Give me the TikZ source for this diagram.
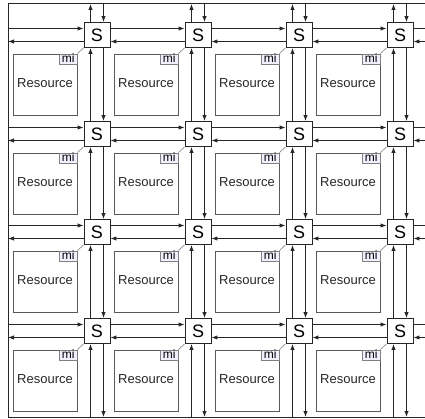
\documentclass[tikz,border=0pt]{standalone}
\usepackage{fontspec}
\setmainfont{Liberation Sans}
\usetikzlibrary{arrows.meta,calc}
\begin{document}
\begin{tikzpicture}[x=1pt,y=-1pt,
  link/.style={line width=1pt,draw=black!85},
  arr/.style={link,-{Latex[length=6pt,width=4.5pt]}},
  switchbox/.style={draw=black!85,line width=0.9pt,fill=white,minimum width=26pt,minimum height=25pt,inner sep=0pt,font=\fontsize{18}{18}\selectfont},
  resbox/.style={draw=black!65,line width=0.9pt,minimum width=64pt,minimum height=61pt,inner sep=0pt},
  mibox/.style={draw=black!50,line width=0.7pt,fill=blue!6,minimum width=18pt,minimum height=10pt,inner sep=0pt,font=\fontsize{12}{12}\selectfont},
  tie/.style={draw=black!45,line width=0.7pt}]
\useasboundingbox (0,0) rectangle (425,419);
% frame
\coordinate (TL) at (8,4);
\coordinate (TR) at (425,4);
\coordinate (BL) at (8,417);
\coordinate (BR) at (425,417);
\draw[link] (TR) -- (TL) -- (BL) -- (BR);
% switches and resources
\foreach \i/\cy in {1/35,2/134,3/232,4/331}{
  \foreach \j/\cx in {1/97,2/198,3/299,4/400}{
    \node[switchbox] (S-\i-\j) at (\cx,\cy) {S};
    \node[resbox] (R-\i-\j) at (\cx-52,\cy+49.5) {};
    \node[font=\fontsize{13}{13}\selectfont,text=black!85] (L-\i-\j) at (\cx-52,\cy+48) {Resource};
    \node[mibox,anchor=north east] (M-\i-\j) at (R-\i-\j.north east) {\raisebox{1pt}{mi}};
    \draw[tie] (S-\i-\j.south west) -- (M-\i-\j.north east);
  }
}
% frame coordinates per column and row
\foreach \j/\cx in {1/97,2/198,3/299,4/400}{
  \coordinate (T-\j) at (\cx,4);
  \coordinate (B-\j) at (\cx,417);
}
\foreach \i/\cy in {1/35,2/134,3/232,4/331}{
  \coordinate (W-\i) at (8,\cy);
  \coordinate (E-\i) at (425,\cy);
}
% horizontal links
\foreach \i in {1,2,3,4}{
  \draw[arr] ([yshift=6.5pt]W-\i) -- ([yshift=6.5pt]S-\i-1.west);
  \draw[arr] ([yshift=-6.5pt]S-\i-1.west) -- ([yshift=-6.5pt]W-\i);
  \draw[link] ([yshift=6.5pt]S-\i-4.east) -- ([yshift=6.5pt]E-\i);
  \draw[arr] ([yshift=-6.5pt]E-\i) -- ([yshift=-6.5pt]S-\i-4.east);
  \foreach \j/\k in {1/2,2/3,3/4}{
    \draw[arr] ([yshift=6.5pt]S-\i-\j.east) -- ([yshift=6.5pt]S-\i-\k.west);
    \draw[arr] ([yshift=-6.5pt]S-\i-\k.west) -- ([yshift=-6.5pt]S-\i-\j.east);
  }
}
% vertical links
\foreach \j in {1,2,3,4}{
  \draw[arr] ([xshift=-6.5pt]S-1-\j.north) -- ([xshift=-6.5pt]T-\j);
  \draw[arr] ([xshift=6.5pt]T-\j) -- ([xshift=6.5pt]S-1-\j.north);
  \draw[arr] ([xshift=-6.5pt]B-\j) -- ([xshift=-6.5pt]S-4-\j.south);
  \draw[arr] ([xshift=6.5pt]S-4-\j.south) -- ([xshift=6.5pt]B-\j);
  \foreach \i/\k in {1/2,2/3,3/4}{
    \draw[arr] ([xshift=-6.5pt]S-\k-\j.north) -- ([xshift=-6.5pt]S-\i-\j.south);
    \draw[arr] ([xshift=6.5pt]S-\i-\j.south) -- ([xshift=6.5pt]S-\k-\j.north);
  }
}
\end{tikzpicture}
\end{document}
